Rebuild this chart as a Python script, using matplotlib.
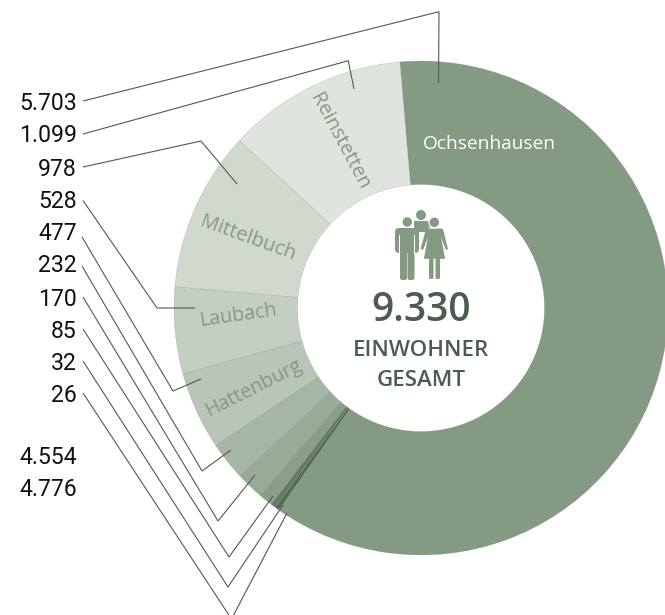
import numpy as np
import matplotlib.pyplot as plt
from matplotlib.patches import Circle, FancyBboxPatch, Polygon

W = 665
H = 615

einwohner = [5703, 26, 32, 85, 170, 232, 477, 528, 978, 1099]
farben = ["#859a83", "#566856", "#667a66", "#8a9e88", "#99ab97", "#a6b6a4",
          "#b8c5b7", "#c3cfc3", "#d1d9cf", "#dfe4de"]
zahlen = ["5.703", "1.099", "978", "528", "477", "232", "170", "85", "32", "26"]
extra_zahlen = ["4.554", "4.776"]

CX, CY = 421, 308
R_AUSSEN = 247
R_INNEN = 123.5
GRUEN = "#859a83"
DUNKEL = "#4c5c4e"


def py(y):
    # Pixel von oben -> Achse von unten
    return H - y


fig = plt.figure(figsize=(W / 100, H / 100), dpi=100)
ax = fig.add_axes([0, 0, 1, 1])

ax.pie(einwohner, colors=farben, startangle=94.9, counterclock=False,
       radius=R_AUSSEN, center=(CX, py(CY)),
       wedgeprops=dict(width=R_AUSSEN - R_INNEN, edgecolor="#7f917f", linewidth=0.15))
ax.set_xlim(0, W)
ax.set_ylim(0, H)
ax.set_aspect("equal")
ax.axis("off")

# Zahlen links
for y, t in zip([104, 136, 169, 202, 234, 266, 299, 331, 363, 395], zahlen):
    ax.text(77, py(y), t, ha="right", va="center", fontsize=16.6, family="Roboto", color="#111111")
for y, t in zip([458, 490], extra_zahlen):
    ax.text(77, py(y), t, ha="right", va="center", fontsize=16.6, family="Roboto", color="#111111")

# Fuehrungslinien
linien = [
    [(83, 101), (439, 11.7), (438.5, 83)],
    [(83, 134), (348.3, 60.7), (354, 89)],
    [(83, 167), (201, 141), (237, 184)],
    [(83, 200.5), (157, 308), (195, 308)],
    [(82, 237), (173, 391), (201, 379)],
    [(82, 266), (202, 471), (231, 450)],
    [(83, 297), (218, 521), (255, 475)],
    [(83, 329), (229, 557), (273, 496)],
    [(83, 361), (228, 587), (283, 505)],
    [(83, 393), (231.5, 619), (287, 513)],
]
for l in linien:
    xs = [p[0] for p in l]
    ys = [py(p[1]) for p in l]
    ax.plot(xs, ys, color="#4f5b50", lw=0.8, solid_capstyle="butt", solid_joinstyle="miter", zorder=5)

# Beschriftung im Ring
beschr = [
    (489, 144, "Ochsenhausen", 0, "white", 13.8),
    (339, 142, "Reinstetten", -62, GRUEN, 14.4),
    (248, 238, "Mittelbuch", -20, GRUEN, 14.4),
    (238, 316, "Laubach", 8, GRUEN, 14.2),
    (254, 388, "Hattenburg", 27, GRUEN, 14.2),
]
for x, y, t, rot, c, fs in beschr:
    ax.text(x, py(y), t, ha="center", va="center", rotation=rot, rotation_mode="anchor",
            fontsize=fs, family="Open Sans", color=c)

# Mitte
ax.text(421, py(311), "9.330", ha="center", va="center", fontsize=28, family="Open Sans",
        weight="semibold", color=DUNKEL)
ax.text(421, py(350), "EINWOHNER", ha="center", va="center", fontsize=16, family="Open Sans",
        weight="semibold", color=DUNKEL)
ax.text(421, py(381), "GESAMT", ha="center", va="center", fontsize=16, family="Open Sans",
        weight="semibold", color=DUNKEL)


def rund(x0, y0, x1, y1, r=1.5, z=6):
    ax.add_patch(FancyBboxPatch((x0 + r, py(y1) + r), x1 - x0 - 2 * r, y1 - y0 - 2 * r,
                                boxstyle=f"round,pad={r},rounding_size={r}", fc=GRUEN, ec="none", zorder=z))


# Icon: drei Personen
ax.add_patch(Circle((421, py(215)), 5, fc=GRUEN, ec="none", zorder=6))
ax.add_patch(Polygon([(414, py(221)), (428, py(221)), (432, py(232)), (414, py(232))], fc=GRUEN, ec="none", zorder=6))
# Mann
ax.add_patch(Circle((407.3, py(222)), 5.3, fc=GRUEN, ec="white", lw=0.8, zorder=7))
rund(395, 228, 419, 253, 4, 7)
rund(400, 245, 407, 280, 2.2, 7)
rund(407.5, 245, 414.5, 280, 2.2, 7)
ax.add_patch(Polygon([(399.2, py(235)), (399.2, py(254)), (400.2, py(254)), (400.2, py(235))], fc="white", ec="none", zorder=8))
ax.add_patch(Polygon([(414.2, py(235)), (414.2, py(254)), (415.2, py(254)), (415.2, py(235))], fc="white", ec="none", zorder=8))
ax.add_patch(Polygon([(395, py(253.5)), (400, py(253.5)), (400, py(256)), (395, py(256))], fc="white", ec="none", zorder=8))
# Frau
ax.add_patch(Circle((434.3, py(222.3)), 5.3, fc=GRUEN, ec="white", lw=0.8, zorder=9))
ax.add_patch(Polygon([(429, py(228)), (440, py(228)), (446, py(259.5)), (423, py(259.5))],
                     fc=GRUEN, ec="white", lw=1, zorder=8))
ax.add_patch(Polygon([(430, py(228)), (426, py(229)), (420.5, py(249)), (423, py(250)), (429, py(235))],
                     fc=GRUEN, ec="none", zorder=8))
ax.add_patch(Polygon([(439, py(228)), (443, py(229)), (448, py(249)), (446, py(250)), (440, py(235))],
                     fc=GRUEN, ec="none", zorder=8))
rund(429, 258, 433.5, 279, 1.5, 8)
rund(435.5, 258, 440, 279, 1.5, 8)

fig.savefig("out.png", dpi=100)
